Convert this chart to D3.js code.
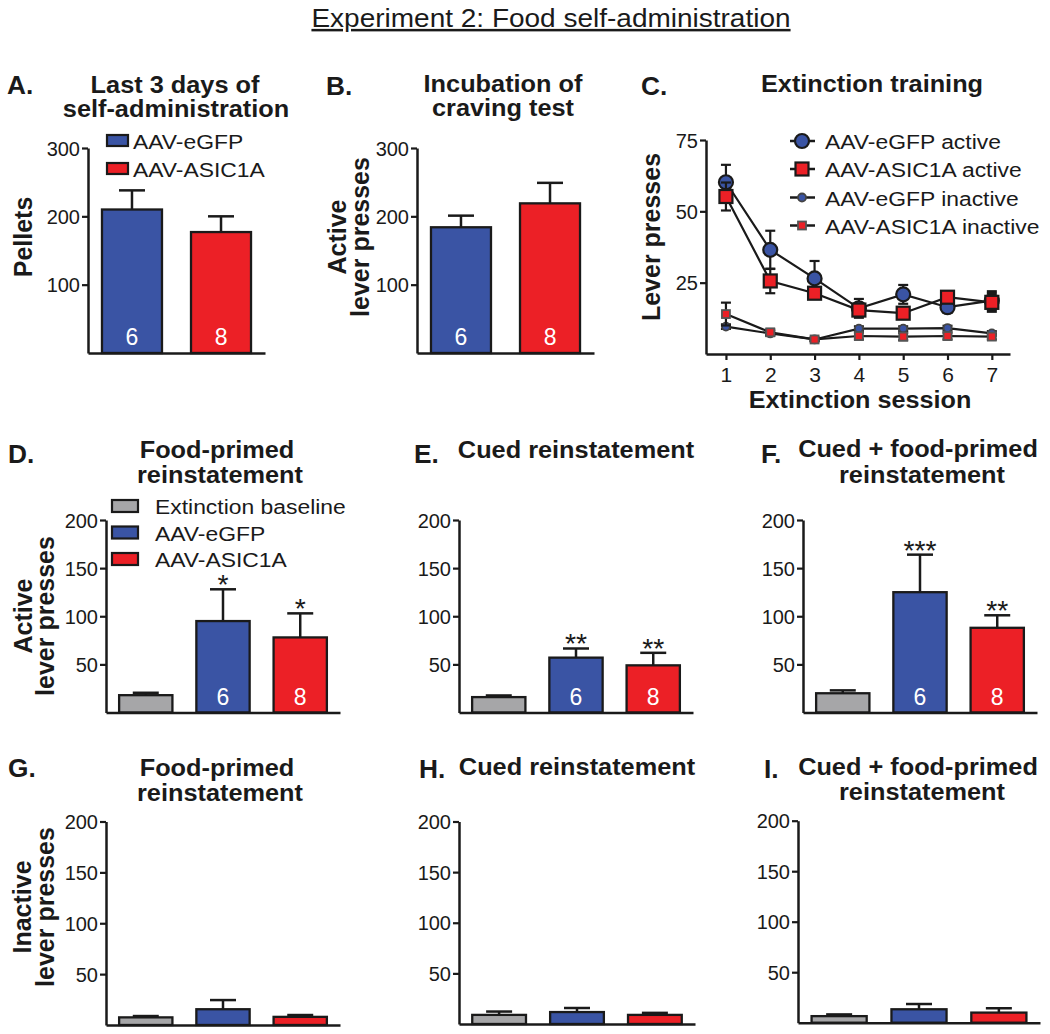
<!DOCTYPE html>
<html><head><meta charset="utf-8">
<script src="https://cdn.jsdelivr.net/npm/d3@7"></script>
<style>
body{margin:0;background:#fff;}
svg text{font-family:"Liberation Sans",Arial,sans-serif;fill:#1a1a1a;}
</style></head>
<body>
<svg id="fig" width="1050" height="1034"></svg>
<script>
// ---------------- DATA ----------------
const groups2 = ["AAV-eGFP", "AAV-ASIC1A"];
const groups3 = ["Extinction baseline", "AAV-eGFP", "AAV-ASIC1A"];
const groupN = {"AAV-eGFP": "6", "AAV-ASIC1A": "8"};

// A. Last 3 days of self-administration (pellets)
const pelletsMean = [210, 177];
const pelletsSEM = [28, 23];
// B. Incubation of craving test (active lever presses)
const incubMean = [184, 219];
const incubSEM = [17, 30];

// C. Extinction training
const sessions = [1, 2, 3, 4, 5, 6, 7];
const egfpActive = [60.2, 36.5, 26.5, 16.0, 20.9, 16.4, 18.7];
const egfpActiveSEM = [6.1, 6.7, 6.1, 3.3, 3.3, 2.0, 3.3];
const asicActive = [55.2, 25.6, 21.3, 15.4, 14.3, 19.9, 18.1];
const asicActiveSEM = [4.9, 4.3, 1.5, 1.2, 1.2, 1.2, 3.3];
const egfpInactive = [9.6, 7.2, 5.1, 8.9, 8.9, 9.1, 7.2];
const egfpInactiveSEM = [0.8, 0.8, 0.6, 0.8, 0.8, 0.8, 0.8];
const asicInactive = [14.0, 7.6, 5.1, 6.3, 6.1, 6.3, 6.1];
const asicInactiveSEM = [4.0, 1.0, 0.6, 1.2, 1.3, 1.2, 1.0];

// D-F. Active lever presses (baseline, eGFP, ASIC1A)
const foodPrimedActive = [18, 95, 78];
const foodPrimedActiveSEM = [2.5, 33, 25];
const cuedActive = [16, 57, 49];
const cuedActiveSEM = [1.7, 9.5, 13];
const cuedFoodActive = [20, 125, 88];
const cuedFoodActiveSEM = [3, 39, 13];
const foodPrimedStars = ["", "*", "*"];
const cuedStars = ["", "**", "**"];
const cuedFoodStars = ["", "***", "**"];

// G-I. Inactive lever presses
const foodPrimedInactive = [7.5, 15.5, 8];
const foodPrimedInactiveSEM = [1.3, 9, 1.8];
const cuedInactive = [9, 11.8, 9];
const cuedInactiveSEM = [3.3, 4, 2];
const cuedFoodInactive = [6.5, 13.3, 10];
const cuedFoodInactiveSEM = [1.7, 5.2, 4.3];

// Tick labels
const ticks300 = [100, 200, 300];
const ticks200 = [50, 100, 150, 200];
const ticks75 = [25, 50, 75];

// ---------------- STYLE ----------------
const colors = {"Extinction baseline": "#a6a6a8", "AAV-eGFP": "#3a54a4", "AAV-ASIC1A": "#ec2026"};
const ink = "#1a1a1a";
const svg = d3.select("#fig");

function text(x, y, s, opts = {}) {
  const k = opts.sx || 1;
  const t = svg.append("text").attr("x", 0).attr("y", 0)
    .attr("transform", `translate(${x},${y}) scale(${k},1)`).text(s)
    .attr("font-size", opts.size || 20)
    .attr("font-weight", opts.bold ? "bold" : "normal")
    .attr("text-anchor", opts.anchor || "start");
  if (opts.fill) t.style("fill", opts.fill);
  if (opts.underline) t.attr("text-decoration", "underline");
  return t;
}
function rotText(x, y, s, size) {
  svg.append("text").attr("transform", `translate(${x},${y}) rotate(-90)`)
    .attr("text-anchor", "middle").attr("font-size", size).attr("font-weight", "bold").text(s);
}
function styleAxis(g) {
  g.selectAll("path.domain").attr("stroke", ink).attr("stroke-width", 2.5);
  g.selectAll(".tick line").attr("stroke", ink).attr("stroke-width", 2.2);
  g.selectAll(".tick text").attr("font-size", 20).attr("font-family", '"Liberation Sans",Arial,sans-serif').style("fill", ink);
}
const TITLE = {size: 24, bold: true, anchor: "middle", sx: 1.055};
const LEG = {size: 21, sx: 1.09};

// ---------------- HEADER ----------------
text(551, 27, "Experiment 2: Food self-administration", {size: 25, anchor: "middle", underline: true, sx: 1.12});

// ---------------- BAR PANELS ----------------
function barPanel(cfg) {
  const cats = cfg.cats;
  const x = d3.scaleBand().domain(cats).range([cfg.x0, cfg.x1])
    .paddingInner(cats.length === 2 ? 0.326 : 0.31).paddingOuter(cats.length === 2 ? 0.157 : 0.17);
  const y = d3.scaleLinear().domain([0, cfg.max]).range([cfg.yBot, cfg.yTop]);
  const g = svg.append("g");
  // error bars (upper)
  cats.forEach((c, i) => {
    const cx = x(c) + x.bandwidth() / 2;
    const top = y(cfg.mean[i] + cfg.sem[i]);
    g.append("line").attr("x1", cx).attr("x2", cx).attr("y1", y(cfg.mean[i])).attr("y2", top)
      .attr("stroke", ink).attr("stroke-width", 2.5);
    g.append("line").attr("x1", cx - 13).attr("x2", cx + 13).attr("y1", top).attr("y2", top)
      .attr("stroke", ink).attr("stroke-width", 2.5);
  });
  g.selectAll("rect.bar").data(cats).join("rect").attr("class", "bar")
    .attr("x", c => x(c)).attr("width", x.bandwidth())
    .attr("y", (c, i) => y(cfg.mean[i])).attr("height", (c, i) => y(0) - y(cfg.mean[i]))
    .attr("fill", c => colors[c]).attr("stroke", ink).attr("stroke-width", 2.3);
  // axes
  const ya = svg.append("g").attr("transform", `translate(${cfg.x0},0)`)
    .call(d3.axisLeft(y).tickValues(cfg.ticks).tickSize(6).tickSizeOuter(0).tickPadding(2));
  styleAxis(ya);
  ya.selectAll(".tick text").attr("dy", "0.36em");
  const xa = svg.append("g").attr("transform", `translate(0,${cfg.yBot})`)
    .call(d3.axisBottom(x).tickSize(0).tickSizeOuter(0).tickFormat(""));
  styleAxis(xa);
  // n labels
  if (cfg.nLabels) {
    cats.forEach(c => {
      if (groupN[c] && c !== "Extinction baseline")
        text(x(c) + x.bandwidth() / 2, cfg.yBot - 8, groupN[c], {size: 23, anchor: "middle", fill: "#ffffff"});
    });
  }
  if (cfg.stars) {
    cats.forEach((c, i) => {
      if (cfg.stars[i]) text(x(c) + x.bandwidth() / 2, y(cfg.mean[i] + cfg.sem[i]) + 5, cfg.stars[i], {size: 27, anchor: "middle", sx: 1.05});
    });
  }
  // titles
  cfg.title.forEach((t, i) => text(cfg.tx[i], cfg.ty[i], t, TITLE));
  text(cfg.lx, cfg.ly, cfg.letter, {size: 25, bold: true, sx: 1.05});
}

barPanel({cats: groups2, mean: pelletsMean, sem: pelletsSEM, max: 300, ticks: ticks300,
  x0: 88, x1: 265, yTop: 148, yBot: 353, nLabels: true,
  title: ["Last 3 days of", "self-administration"], tx: [175, 176], ty: [93, 117], letter: "A.", lx: 7, ly: 94});
barPanel({cats: groups2, mean: incubMean, sem: incubSEM, max: 300, ticks: ticks300,
  x0: 417, x1: 594, yTop: 148, yBot: 353, nLabels: true,
  title: ["Incubation of", "craving test"], tx: [503, 503], ty: [92, 116], letter: "B.", lx: 326, ly: 95});
barPanel({cats: groups3, mean: foodPrimedActive, sem: foodPrimedActiveSEM, max: 200, ticks: ticks200,
  x0: 106, x1: 340, yTop: 520, yBot: 712.5, nLabels: true, stars: foodPrimedStars,
  title: ["Food-primed", "reinstatement"], tx: [217, 220], ty: [458, 483], letter: "D.", lx: 8, ly: 463});
barPanel({cats: groups3, mean: cuedActive, sem: cuedActiveSEM, max: 200, ticks: ticks200,
  x0: 459, x1: 693, yTop: 520, yBot: 712.5, nLabels: true, stars: cuedStars,
  title: ["Cued reinstatement"], tx: [576], ty: [458], letter: "E.", lx: 414, ly: 463});
barPanel({cats: groups3, mean: cuedFoodActive, sem: cuedFoodActiveSEM, max: 200, ticks: ticks200,
  x0: 803, x1: 1037, yTop: 520, yBot: 712.5, nLabels: true, stars: cuedFoodStars,
  title: ["Cued + food-primed", "reinstatement"], tx: [918, 922], ty: [457, 483], letter: "F.", lx: 761, ly: 463});
barPanel({cats: groups3, mean: foodPrimedInactive, sem: foodPrimedInactiveSEM, max: 200, ticks: ticks200,
  x0: 106, x1: 340, yTop: 821.5, yBot: 1025,
  title: ["Food-primed", "reinstatement"], tx: [217, 220], ty: [776, 801], letter: "G.", lx: 8, ly: 777});
barPanel({cats: groups3, mean: cuedInactive, sem: cuedInactiveSEM, max: 200, ticks: ticks200,
  x0: 459, x1: 695, yTop: 821.5, yBot: 1024,
  title: ["Cued reinstatement"], tx: [577], ty: [775], letter: "H.", lx: 419, ly: 778});
barPanel({cats: groups3, mean: cuedFoodInactive, sem: cuedFoodInactiveSEM, max: 200, ticks: ticks200,
  x0: 798, x1: 1040, yTop: 820.7, yBot: 1022.7,
  title: ["Cued + food-primed", "reinstatement"], tx: [918, 922], ty: [775, 800], letter: "I.", lx: 764, ly: 778});

// y-axis labels for bar panels
rotText(32, 237, "Pellets", 25);
rotText(346, 237, "Active", 25);
rotText(369, 237, "lever presses", 25);
rotText(32, 616, "Active", 25);
rotText(54, 616, "lever presses", 25);
rotText(31, 907, "Inactive", 25);
rotText(54, 907, "lever presses", 25);

// legends A and D
function boxLegend(items, x, y0, step, w, h, tx) {
  items.forEach((c, i) => {
    const y = y0 + i * step;
    svg.append("rect").attr("x", x).attr("y", y).attr("width", w).attr("height", h)
      .attr("fill", colors[c]).attr("stroke", ink).attr("stroke-width", 2.2);
    text(tx, y + h / 2 + 8, c, LEG);
  });
}
boxLegend(groups2, 107, 135, 28, 21, 11, 133);
boxLegend(groups3, 112, 500, 26.5, 26, 12, 155);

// ---------------- PANEL C ----------------
(function () {
  const x = d3.scaleLinear().domain([0.55, 7.41]).range([706, 1010]);
  const y = d3.scaleLinear().domain([0, 75]).range([354, 140]);
  const series = [
    {name: "AAV-eGFP inactive", mean: egfpInactive, sem: egfpInactiveSEM, color: colors["AAV-eGFP"], shape: "circle", size: 4},
    {name: "AAV-ASIC1A inactive", mean: asicInactive, sem: asicInactiveSEM, color: colors["AAV-ASIC1A"], shape: "square", size: 4},
    {name: "AAV-eGFP active", mean: egfpActive, sem: egfpActiveSEM, color: colors["AAV-eGFP"], shape: "circle", size: 7},
    {name: "AAV-ASIC1A active", mean: asicActive, sem: asicActiveSEM, color: colors["AAV-ASIC1A"], shape: "square", size: 6.5}
  ];
  const line = d3.line().x((d, i) => x(sessions[i])).y(d => y(d));
  function marker(g, cx, cy, s) {
    if (s.shape === "circle") {
      g.append("circle").attr("cx", cx).attr("cy", cy).attr("r", s.size)
        .attr("fill", s.color).attr("stroke", s.size > 5 ? ink : "#444").attr("stroke-width", s.size > 5 ? 2.2 : 1.8);
    } else {
      g.append("rect").attr("x", cx - s.size).attr("y", cy - s.size).attr("width", 2 * s.size).attr("height", 2 * s.size)
        .attr("fill", s.color).attr("stroke", s.size > 5 ? ink : "#555").attr("stroke-width", s.size > 5 ? 2.2 : 1.8);
    }
  }
  const g = svg.append("g");
  series.forEach(s => {
    g.append("path").datum(s.mean).attr("d", line).attr("fill", "none").attr("stroke", ink).attr("stroke-width", 2.2);
  });
  series.forEach(s => {
    s.mean.forEach((m, i) => {
      const cx = x(sessions[i]);
      const a = y(m + s.sem[i]), b = y(m - s.sem[i]);
      g.append("line").attr("x1", cx).attr("x2", cx).attr("y1", a).attr("y2", b).attr("stroke", ink).attr("stroke-width", 2.2);
      [a, b].forEach(v => g.append("line").attr("x1", cx - 5).attr("x2", cx + 5).attr("y1", v).attr("y2", v)
        .attr("stroke", ink).attr("stroke-width", 2.2));
    });
    s.mean.forEach((m, i) => marker(g, x(sessions[i]), y(m), s));
  });
  const ya = svg.append("g").attr("transform", "translate(706,0)")
    .call(d3.axisLeft(y).tickValues(ticks75).tickSize(6).tickSizeOuter(0).tickPadding(2));
  styleAxis(ya);
  ya.selectAll(".tick text").attr("dy", "0.36em");
  const xa = svg.append("g").attr("transform", "translate(0,354)")
    .call(d3.axisBottom(x).tickValues(sessions).tickFormat(d3.format("d")).tickSize(6).tickSizeOuter(0).tickPadding(7));
  styleAxis(xa);
  xa.selectAll(".tick text").attr("font-size", 21);
  text(860, 408, "Extinction session", {size: 24, bold: true, anchor: "middle", sx: 1.05});
  rotText(660, 237, "Lever presses", 25);
  text(872, 92, "Extinction training", TITLE);
  text(641, 95, "C.", {size: 25, bold: true, sx: 1.05});
  // legend
  const order = [series[2], series[3], series[0], series[1]];
  const ly = [141, 169, 197.5, 225.5];
  order.forEach((s, i) => {
    g.append("line").attr("x1", 790).attr("x2", 815).attr("y1", ly[i]).attr("y2", ly[i]).attr("stroke", ink).attr("stroke-width", 2.5);
    marker(g, 802, ly[i], s);
    text(825, ly[i] + 8, s.name, LEG);
  });
})();
</script>
</body></html>
